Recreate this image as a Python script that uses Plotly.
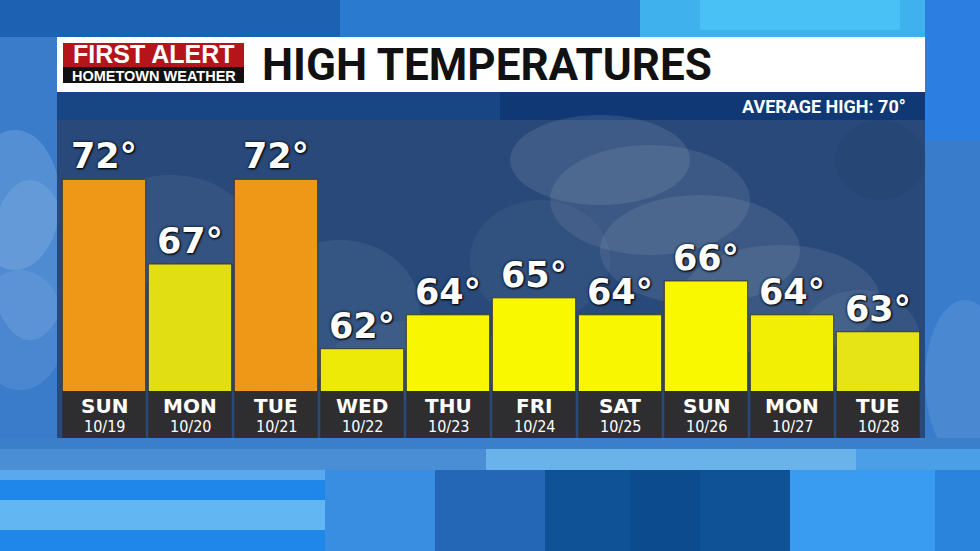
import plotly.graph_objects as go

# ---------------- data ----------------
days = ["SUN", "MON", "TUE", "WED", "THU", "FRI", "SAT", "SUN", "MON", "TUE"]
dates = ["10/19", "10/20", "10/21", "10/22", "10/23", "10/24", "10/25", "10/26", "10/27", "10/28"]
highs = [72, 67, 72, 62, 64, 65, 64, 66, 64, 63]
average_high = 70
title_text = "HIGH TEMPERATURES"

# ---------------- geometry helpers (figure pixels -> paper coords) ----------------
W, H = 980, 551
L, R, T, B = 57, 925, 120, 391          # plot area in pixels


def PX(x):
    return (x - L) / (R - L)


def PY(y):
    return (B - y) / (B - T)


ORANGE = "#EF9716"
yellow_shade = ["#F6F300", "#E2DE14", "#F6F300", "#EEEA08", "#F8F600", "#FAF800",
                "#F8F600", "#FAF800", "#F2EF04", "#E6E316"]
colors = [ORANGE if v >= average_high else yellow_shade[i] for i, v in enumerate(highs)]

fig = go.Figure()
fig.add_trace(go.Bar(
    x=dates, y=highs,
    width=0.97,
    marker=dict(color=colors, line=dict(color="#3a3a30", width=1)),
    texttemplate="%{y}°", textposition="outside", cliponaxis=False,
    textfont=dict(family="DejaVu Sans", size=35, color="white", weight="bold",
                  shadow="0px 0px 3px #000, 1px 1px 2px #000"),
    hoverinfo="skip",
))

shapes = []


def rect(x0, y0, x1, y1, color, opacity=1.0):
    shapes.append(dict(type="rect", xref="paper", yref="paper",
                       x0=PX(x0), x1=PX(x1), y0=PY(y0), y1=PY(y1),
                       fillcolor=color, opacity=opacity, line=dict(width=0),
                       layer="below"))


def blob(cx, cy, rx, ry, color, opacity):
    shapes.append(dict(type="circle", xref="paper", yref="paper",
                       x0=PX(cx - rx), x1=PX(cx + rx), y0=PY(cy + ry), y1=PY(cy - ry),
                       fillcolor=color, opacity=opacity, line=dict(width=0),
                       layer="below"))


# ---- page background ----
rect(0, 0, 340, 37, "#1d62b2")
rect(340, 0, 640, 37, "#2a7bd0")
rect(640, 0, 925, 37, "#3fb2ee")
rect(700, 0, 900, 30, "#4cc4f6", 0.8)
rect(925, 0, 980, 140, "#2c7fe0")
rect(0, 37, 57, 445, "#3a7cca")
blob(15, 200, 45, 70, "#a4c6ee", 0.25)
blob(30, 260, 40, 80, "#a4c6ee", 0.2)
blob(20, 330, 45, 60, "#8ab6ea", 0.2)
rect(925, 140, 980, 445, "#3a7ccc")
blob(965, 380, 40, 80, "#7aaae4", 0.25)
rect(0, 438, 980, 449, "#3b7fcb")
rect(0, 449, 486, 470, "#4a8fd6")
rect(486, 449, 856, 470, "#6ab3ea")
rect(856, 449, 980, 470, "#4a9fe6")
rect(0, 470, 325, 480, "#5aa9ee")
rect(0, 480, 325, 500, "#1f86ea")
rect(0, 500, 325, 530, "#62b6f2")
rect(0, 530, 325, 551, "#1f86ea")
rect(325, 470, 435, 551, "#3a8ee2")
rect(435, 470, 545, 551, "#2467b6")
rect(545, 470, 790, 551, "#0f5296")
rect(630, 470, 700, 551, "#0b4a8a", 0.7)
rect(790, 470, 935, 551, "#3a9cf0")
rect(935, 470, 980, 551, "#2b84dc")

# ---- header / strip / panel ----
rect(57, 37, 925, 92, "#ffffff")
rect(57, 92, 925, 120, "#0f3874")
rect(57, 92, 500, 120, "#1e4e8e", 0.6)
rect(57, 120, 925, 438, "#284979")
# soft clouds inside the panel
blob(170, 230, 80, 55, "#8aa0c0", 0.12)
blob(340, 310, 80, 70, "#8aa0c0", 0.14)
blob(420, 360, 90, 40, "#8aa0c0", 0.1)
blob(600, 160, 90, 45, "#b0bccc", 0.16)
blob(650, 200, 100, 55, "#b0bccc", 0.14)
blob(700, 250, 100, 55, "#b0bccc", 0.14)
blob(780, 300, 100, 55, "#a8b6c8", 0.14)
blob(860, 340, 60, 50, "#a0b0c6", 0.12)
blob(540, 260, 70, 60, "#8aa0bc", 0.1)
blob(880, 160, 45, 40, "#203e70", 0.2)

# ---- logo ----
rect(63, 43, 244, 67, "#b5141a")
rect(63, 67, 244, 83, "#111111")

# ---- day label boxes ----
for i in range(len(dates)):
    shapes.append(dict(type="rect", xref="x", yref="paper",
                       x0=i - 0.485, x1=i + 0.485, y0=PY(438), y1=PY(391),
                       fillcolor="#2e2e30", line=dict(width=0), layer="below"))

NARROW = "DejaVu Sans Condensed, DejaVu Sans, sans-serif"
annotations = [
    dict(text="FIRST ALERT", x=PX(153.5), y=PY(54), xref="paper", yref="paper",
         showarrow=False, xanchor="center", yanchor="middle",
         font=dict(family="Liberation Sans", size=25, color="white", weight="bold")),
    dict(text="HOMETOWN WEATHER", x=PX(153.5), y=PY(76), xref="paper", yref="paper",
         showarrow=False, xanchor="center", yanchor="middle",
         font=dict(family="Liberation Sans", size=14.5, color="white", weight="bold")),
    dict(text=title_text, x=PX(260), y=PY(65), xref="paper", yref="paper",
         showarrow=False, xanchor="left", yanchor="middle",
         font=dict(family="Roboto", size=44, color="#111111", weight="bold")),
    dict(text=f"AVERAGE HIGH: {average_high}°", x=PX(908), y=PY(106.5), xref="paper",
         yref="paper", showarrow=False, xanchor="right", yanchor="middle",
         font=dict(family="Roboto", size=18, color="white", weight="bold")),
]
for d, dt in zip(days, dates):
    annotations.append(dict(text=d, x=dt, xref="x", y=PY(406), yref="paper",
                            showarrow=False, xanchor="center", yanchor="middle",
                            font=dict(family="DejaVu Sans", size=20, color="white",
                                      weight="bold")))
    annotations.append(dict(text=dt, x=dt, xref="x", y=PY(426), yref="paper",
                            showarrow=False, xanchor="center", yanchor="middle",
                            font=dict(family=NARROW, size=16, color="white")))

a = 0.0465
fig.update_layout(
    width=W, height=H,
    margin=dict(l=L, r=W - R, t=T, b=H - B, pad=0),
    paper_bgcolor="#2678d0",
    plot_bgcolor="rgba(0,0,0,0)",
    showlegend=False,
    bargap=0.03,
    xaxis=dict(type="category", range=[-0.5 - a, len(dates) - 0.5 + a],
               visible=False, fixedrange=True),
    yaxis=dict(range=[59.5, 75.5], visible=False, fixedrange=True),
    shapes=shapes,
    annotations=annotations,
)

fig.write_html("out.html", config={"displayModeBar": False},
               post_script="document.body.style.margin='0';document.body.style.overflow='hidden';")
